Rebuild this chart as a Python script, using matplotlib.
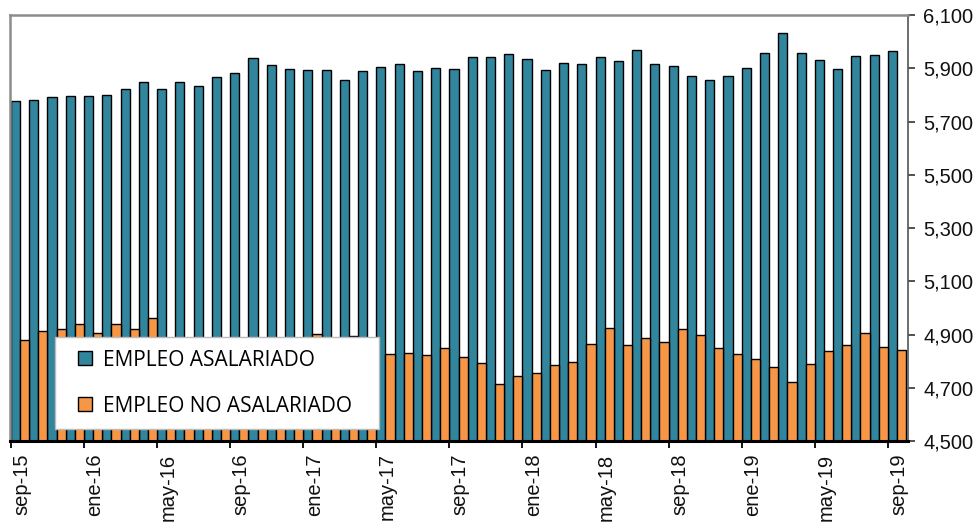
import numpy as np
import matplotlib
matplotlib.use("Agg")
import matplotlib.pyplot as plt
from matplotlib.lines import Line2D
from matplotlib.ticker import FuncFormatter, FixedLocator

# --- datos (miles de personas), sep-15 a sep-19 ---
meses = ["sep-15", "oct-15", "nov-15", "dic-15", "ene-16", "feb-16", "mar-16", "abr-16",
         "may-16", "jun-16", "jul-16", "ago-16", "sep-16", "oct-16", "nov-16", "dic-16",
         "ene-17", "feb-17", "mar-17", "abr-17", "may-17", "jun-17", "jul-17", "ago-17",
         "sep-17", "oct-17", "nov-17", "dic-17", "ene-18", "feb-18", "mar-18", "abr-18",
         "may-18", "jun-18", "jul-18", "ago-18", "sep-18", "oct-18", "nov-18", "dic-18",
         "ene-19", "feb-19", "mar-19", "abr-19", "may-19", "jun-19", "jul-19", "ago-19",
         "sep-19"]

asalariado = [5776, 5782, 5792, 5797, 5797, 5801, 5821, 5848, 5821, 5848, 5833, 5868,
              5882, 5937, 5913, 5898, 5893, 5893, 5857, 5888, 5906, 5915, 5891, 5902,
              5897, 5943, 5943, 5954, 5935, 5893, 5921, 5917, 5943, 5926, 5969, 5917,
              5908, 5870, 5857, 5870, 5902, 5957, 6032, 5957, 5932, 5896, 5947, 5951,
              5965]

no_asalariado = [4879, 4913, 4922, 4941, 4907, 4938, 4922, 4961, 4880, 4870, 4875, 4880,
                 4870, 4880, 4885, 4875, 4901, 4880, 4895, 4860, 4827, 4830, 4824, 4850,
                 4814, 4794, 4713, 4745, 4755, 4785, 4798, 4863, 4924, 4861, 4887, 4871,
                 4921, 4897, 4849, 4827, 4808, 4779, 4722, 4790, 4839, 4861, 4904, 4854,
                 4842]

y_ticks = [4500, 4700, 4900, 5100, 5300, 5500, 5700, 5900, 6100]
series = ["EMPLEO ASALARIADO", "EMPLEO NO ASALARIADO"]

col_asal = "#31859C"
col_noasal = "#F79646"

plt.rcParams['font.family'] = ['Liberation Sans', 'DejaVu Sans']

fig = plt.figure(figsize=(9.8, 5.27), dpi=100)
ax = fig.add_axes([0.0102, 0.1632, 0.9163, 0.8083])

x = np.arange(len(meses))
ax.bar(x, asalariado, width=0.5, align='edge', color=col_asal,
       edgecolor='black', linewidth=1.0)
ax.bar(x + 0.5, no_asalariado, width=0.5, align='edge', color=col_noasal,
       edgecolor='black', linewidth=1.0)

ax.set_xlim(-0.05, len(meses) + 0.1)
ax.set_ylim(y_ticks[0], y_ticks[-1])

# eje y a la derecha
ax.yaxis.tick_right()
ax.set_yticks(y_ticks)
ax.yaxis.set_major_formatter(FuncFormatter(lambda v, p: f"{int(v):,}"))
ax.tick_params(axis='y', direction='out', length=5, width=1.2, color='#333333',
               labelsize=14.5, pad=6, labelcolor='#111111')

# eje x: marcas cada 4 meses, etiqueta algo desplazada
pos = x[::4]
ax.xaxis.set_major_locator(FixedLocator(pos))
ax.xaxis.set_minor_locator(FixedLocator(pos + 0.6))
ax.set_xticklabels([])
ax.set_xticklabels([meses[i] for i in pos], minor=True, rotation=90)
ax.tick_params(axis='x', which='major', direction='out', length=5, width=1.3, color='black')
ax.tick_params(axis='x', which='minor', length=0, labelsize=14.5, pad=9, labelcolor='#111111')

for s in ['top', 'left']:
    ax.spines[s].set_color('#8c8c8c')
    ax.spines[s].set_linewidth(1.8)
ax.spines['right'].set_color('#555555')
ax.spines['right'].set_linewidth(1.2)
ax.spines['bottom'].set_color('black')
ax.spines['bottom'].set_linewidth(2.2)

# leyenda con cuadrados
handles = [Line2D([], [], linestyle='none', marker='s', markersize=10,
                  markerfacecolor=c, markeredgecolor='black', markeredgewidth=1.0)
           for c in (col_asal, col_noasal)]
leg = ax.legend(handles, series, loc='lower left',
                bbox_to_anchor=(0.05, 0.028, 0.361, 0.2), mode='expand',
                frameon=True, fancybox=False, framealpha=1, edgecolor='#bbbbbb',
                prop={'family': 'Open Sans', 'size': 15}, borderpad=0.6,
                labelspacing=1.2, handlelength=1.7, handletextpad=0.0,
                borderaxespad=0)
leg.get_frame().set_linewidth(1.0)

fig.savefig("out.png", dpi=100)
